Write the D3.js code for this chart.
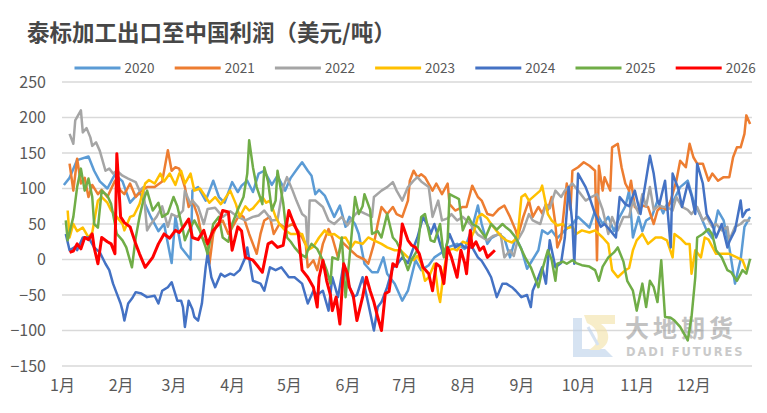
<!DOCTYPE html>
<html>
<head>
<meta charset="utf-8">
<script src="https://cdn.jsdelivr.net/npm/d3@7"></script>
<style>
  html, body { margin: 0; padding: 0; background: #fff; }
  svg { display: block; font-family: "Noto Sans CJK SC", "Noto Sans", sans-serif; }
</style>
</head>
<body>
<div id="chart"></div>
<script>
//----------------------------DATA------------------------------//
// [day of year, profit USD/t]
const y2020 = [[1,105],[4,115],[8,140],[14,145],[17,125],[20,110],[24,100],[28,120],[32,110],[36,80],[41,95],[47,60],[51,40],[54,50],[58,-5],[60,60],[63,17],[68,0],[69,97],[72,102],[76,83],[80,111],[83,88],[86,80],[90,109],[93,95],[95,104],[98,111],[101,95],[104,121],[107,125],[111,105],[114,118],[118,97],[121,115],[125,130],[127,137],[130,125],[132,118],[134,92],[136,98],[139,90],[141,78],[144,60],[147,76],[150,46],[152,60],[155,50],[157,36],[160,-6],[164,-18],[167,-18],[170,3],[172,-20],[176,-34],[180,-58],[183,-44],[187,-1],[190,-15],[194,-8],[197,3],[201,10],[204,17],[209,22],[213,15],[217,45],[220,76],[222,50],[225,22],[227,30],[231,36],[234,30],[237,3],[240,31],[243,15],[246,-13],[249,0],[252,13],[254,41],[257,36],[259,41],[262,30],[266,41],[270,50],[273,60],[277,50],[279,45],[282,69],[286,50],[289,60],[292,40],[295,60],[298,75],[300,97],[302,31],[305,60],[307,40],[309,55],[312,60],[315,83],[318,65],[320,78],[323,80],[327,102],[331,111],[334,83],[338,60],[341,41],[344,30],[347,69],[350,55],[353,17],[356,-34],[359,0],[361,46],[364,60]];
const y2021 = [[4,135],[6,97],[8,142],[10,107],[12,115],[14,88],[16,105],[19,92],[21,98],[24,88],[28,111],[31,97],[33,92],[36,107],[39,88],[42,97],[45,102],[49,102],[53,110],[56,154],[58,125],[60,130],[62,128],[65,102],[67,74],[69,83],[72,60],[74,31],[77,22],[78,-6],[80,36],[82,50],[85,55],[88,36],[90,45],[94,64],[96,60],[99,36],[103,8],[105,36],[107,55],[110,60],[112,36],[115,50],[118,45],[122,50],[125,40],[127,31],[129,20],[130,-11],[133,-1],[135,-15],[138,22],[141,43],[143,31],[146,3],[148,25],[152,15],[156,5],[160,0],[162,-6],[165,22],[167,50],[169,74],[172,64],[175,74],[177,64],[180,60],[183,83],[184,111],[186,125],[188,116],[190,120],[192,116],[196,97],[198,107],[201,92],[204,107],[205,78],[208,69],[212,74],[214,74],[217,104],[220,88],[222,83],[225,64],[228,62],[231,71],[234,76],[237,60],[240,41],[241,31],[244,60],[247,83],[249,60],[252,74],[254,65],[256,78],[257,70],[259,88],[261,50],[262,17],[264,30],[267,107],[269,70],[270,125],[273,130],[276,137],[279,132],[282,125],[283,-1],[284,132],[286,97],[287,116],[290,97],[291,158],[294,163],[296,130],[298,107],[300,97],[301,111],[303,74],[305,69],[307,76],[310,74],[313,50],[315,69],[317,74],[320,70],[322,83],[325,111],[327,139],[330,130],[332,163],[334,144],[336,135],[339,135],[342,111],[344,121],[347,111],[350,116],[353,116],[355,144],[357,158],[359,158],[361,177],[362,203],[364,191]];
const y2022 = [[4,177],[6,163],[7,196],[10,210],[11,179],[13,185],[15,172],[16,160],[18,165],[20,153],[23,125],[25,128],[27,121],[29,125],[32,118],[35,114],[39,109],[41,97],[43,102],[45,41],[47,50],[50,60],[53,75],[56,46],[58,64],[61,60],[64,69],[65,97],[68,78],[69,83],[72,74],[75,50],[77,71],[81,73],[85,60],[89,68],[93,60],[97,55],[101,60],[104,62],[107,69],[111,55],[114,56],[117,102],[119,116],[122,97],[124,83],[127,64],[129,60],[130,13],[131,83],[134,83],[138,74],[141,55],[144,50],[148,60],[151,48],[154,60],[157,69],[160,65],[164,60],[165,88],[169,97],[172,102],[175,109],[177,97],[180,83],[183,102],[186,111],[188,116],[190,110],[194,102],[196,60],[199,83],[201,55],[204,58],[206,64],[209,55],[212,60],[216,50],[220,35],[225,27],[228,33],[232,36],[234,3],[237,13],[239,5],[241,27],[244,41],[247,64],[249,55],[253,50],[256,78],[258,72],[261,97],[264,88],[266,97],[270,107],[273,97],[277,83],[280,88],[283,92],[286,70],[289,36],[291,60],[294,41],[297,60],[300,60],[302,83],[305,65],[307,92],[309,75],[311,102],[313,70],[316,76],[318,74],[320,74],[323,69],[325,88],[328,74],[331,70],[333,64],[336,74],[339,55],[341,60],[344,46],[346,50],[349,41],[352,46],[353,27],[356,46],[359,50],[361,55],[364,55]];
const y2023 = [[3,69],[4,31],[6,50],[8,40],[11,45],[14,31],[16,38],[19,83],[21,88],[24,80],[26,69],[29,60],[32,50],[33,41],[36,60],[38,62],[41,78],[44,107],[46,112],[49,107],[52,121],[54,110],[57,121],[60,105],[62,121],[63,125],[65,107],[68,121],[70,97],[73,100],[76,88],[78,80],[81,88],[84,78],[86,85],[89,97],[92,78],[94,60],[97,75],[99,69],[101,72],[106,88],[108,80],[110,83],[113,60],[115,50],[118,41],[121,36],[124,36],[127,36],[130,13],[133,18],[136,31],[139,41],[141,35],[144,36],[147,30],[150,31],[153,17],[155,25],[159,22],[162,31],[165,27],[169,22],[172,17],[176,13],[179,13],[183,3],[186,-1],[188,5],[190,-6],[192,-30],[194,-25],[197,-6],[199,-48],[200,-60],[202,-15],[204,13],[207,15],[209,13],[212,25],[215,22],[218,40],[220,60],[222,64],[225,58],[227,50],[230,40],[233,31],[235,27],[238,24],[241,31],[243,88],[245,92],[247,83],[250,90],[253,97],[254,104],[257,64],[259,55],[262,48],[265,50],[267,44],[270,46],[272,36],[275,41],[279,38],[282,41],[286,31],[289,22],[291,-15],[294,-25],[298,-15],[300,-12],[302,13],[304,27],[307,36],[310,22],[314,31],[317,31],[320,27],[323,3],[324,36],[327,30],[330,22],[332,22],[333,-20],[335,13],[338,3],[340,31],[342,28],[346,8],[350,8],[353,8],[357,3],[360,-1],[362,-15]];
const y2024 = [[2,36],[4,13],[7,18],[8,13],[11,31],[14,31],[17,17],[20,10],[23,-6],[25,-15],[27,-34],[29,-48],[31,-62],[32,-72],[33,-86],[35,-62],[37,-55],[39,-46],[42,-48],[45,-53],[49,-51],[51,-62],[53,-44],[56,-39],[58,-32],[61,-58],[63,-58],[64,-67],[65,-95],[67,-58],[69,-70],[70,-81],[72,-86],[74,-62],[76,-11],[77,8],[79,-25],[81,-39],[84,-20],[86,-24],[89,-20],[91,-22],[94,-15],[97,3],[98,17],[101,-30],[105,-34],[107,-44],[110,-11],[113,-15],[116,-11],[120,-25],[123,-25],[127,-34],[130,-62],[133,-44],[135,-50],[138,-44],[141,-72],[143,-25],[146,-53],[149,-6],[151,-30],[154,-53],[156,-50],[159,-25],[162,-62],[165,-100],[167,-67],[169,-60],[172,-39],[175,-11],[177,-8],[180,3],[183,-5],[186,17],[188,31],[191,60],[194,45],[195,36],[197,50],[200,22],[202,5],[205,36],[208,17],[211,22],[213,17],[217,17],[220,3],[222,-2],[225,-15],[227,-25],[230,-53],[233,-34],[235,-34],[238,-39],[240,-44],[243,-53],[246,-50],[248,-67],[249,-44],[252,-25],[254,-11],[256,-34],[258,27],[261,-11],[264,-5],[266,31],[268,102],[270,50],[271,-6],[273,121],[277,102],[279,88],[282,64],[285,46],[287,50],[290,41],[293,31],[295,88],[298,78],[300,75],[303,97],[306,64],[308,97],[311,146],[313,121],[315,83],[316,78],[319,111],[322,17],[323,121],[326,100],[328,74],[331,107],[333,90],[335,64],[336,135],[339,107],[341,64],[344,50],[346,31],[349,50],[352,17],[353,25],[356,41],[359,83],[360,60],[362,69],[364,71]];
const y2025 = [[2,55],[3,27],[6,60],[8,102],[10,128],[12,97],[14,114],[16,88],[17,50],[19,45],[21,97],[24,90],[26,78],[29,36],[32,27],[34,17],[37,-11],[39,31],[41,60],[43,83],[45,97],[48,69],[51,80],[53,60],[56,65],[59,88],[61,75],[64,41],[65,27],[67,40],[70,55],[73,40],[76,17],[77,8],[80,50],[83,60],[85,31],[88,25],[90,50],[93,70],[96,88],[98,121],[99,168],[101,130],[103,102],[106,78],[107,130],[109,110],[111,69],[113,83],[114,125],[117,80],[119,31],[121,25],[123,17],[126,8],[129,3],[130,13],[132,22],[135,15],[138,-1],[140,-15],[142,-34],[143,3],[146,0],[148,31],[150,-53],[152,0],[155,88],[157,64],[159,75],[160,92],[163,70],[164,36],[167,40],[169,31],[172,64],[175,31],[177,25],[180,8],[183,-15],[185,0],[188,13],[190,60],[192,64],[195,27],[197,25],[200,50],[202,3],[204,27],[205,92],[208,88],[210,85],[212,41],[215,60],[217,50],[220,46],[224,31],[227,50],[230,42],[233,50],[235,45],[237,41],[240,31],[242,20],[245,3],[248,-11],[250,-25],[252,-39],[254,-15],[257,13],[259,0],[261,-30],[262,-6],[265,-3],[267,-6],[270,-1],[272,-5],[275,-8],[279,-10],[282,-15],[284,-30],[286,-10],[289,3],[292,10],[294,17],[297,-3],[299,-30],[302,-44],[304,-72],[307,-34],[309,-67],[311,-30],[313,-39],[315,-60],[317,-1],[319,-81],[322,-82],[324,-86],[327,-95],[330,-109],[331,-114],[333,-81],[335,-25],[336,31],[339,36],[342,43],[344,35],[346,13],[349,3],[352,-15],[354,-18],[357,-30],[360,-15],[362,-20],[364,1]];
const y2026 = [[4,10],[6,12],[8,22],[10,15],[12,31],[14,28],[16,36],[17,17],[19,-6],[21,31],[24,25],[26,22],[28,8],[29,149],[31,60],[33,52],[36,46],[39,22],[41,8],[44,-11],[48,3],[51,22],[54,36],[57,30],[60,41],[62,38],[64,45],[67,57],[69,31],[72,28],[75,41],[77,22],[80,41],[83,50],[85,69],[88,67],[90,13],[93,46],[95,40],[97,3],[101,-1],[104,-11],[106,-18],[109,22],[111,25],[114,17],[117,20],[120,69],[122,55],[125,36],[127,-15],[130,-25],[133,-39],[135,-67],[136,-25],[138,-1],[140,-30],[142,-50],[143,-72],[145,-53],[147,-91],[149,-6],[151,-20],[152,-39],[154,-50],[156,-86],[159,-53],[161,-25],[163,-44],[165,-60],[167,-81],[169,-100],[171,-48],[173,-45],[175,-6],[177,-10],[179,22],[180,50],[183,27],[185,20],[187,17],[189,8],[191,-11],[194,-20],[196,-44],[198,-6],[200,-10],[202,-34],[204,17],[206,3],[209,-25],[211,13],[213,-5],[214,-20],[216,41],[217,17],[219,25],[221,13],[223,18],[225,3],[227,8],[229,13]];

const seriesNames = ["2020", "2021", "2022", "2023", "2024", "2025", "2026"];
const seriesData = [y2020, y2021, y2022, y2023, y2024, y2025, y2026];
const colors = ["#5B9BD5", "#ED7D31", "#A5A5A5", "#FFC000", "#4472C4", "#70AD47", "#FF0000"];
const yTicks = [-150, -100, -50, 0, 50, 100, 150, 200, 250];
const title = "泰标加工出口至中国利润（美元/吨）";

//----------------------------SETUP-----------------------------//
const width = 767, height = 413;
const plotLeft = 62, plotRight = 752, plotTop = 82, plotBottom = 366;
const svg = d3.select("#chart").append("svg")
    .attr("width", width).attr("height", height);

const start = new Date(2001, 0, 1);
const toDate = d => d3.timeDay.offset(start, d);
const xScale = d3.scaleTime().domain([start, new Date(2002, 0, 1)]).range([plotLeft, plotRight]);
const yScale = d3.scaleLinear().domain([-150, 250]).range([plotBottom, plotTop]);

//----------------------------TITLE-----------------------------//
svg.append("text")
    .attr("x", 27).attr("y", 41)
    .attr("font-size", 22.5).attr("font-weight", "bold")
    .attr("fill", "#474747")
    .text(title);

//----------------------------GRID------------------------------//
svg.append("g").selectAll("line")
    .data(yTicks).enter().append("line")
    .attr("x1", plotLeft).attr("x2", plotRight)
    .attr("y1", d => yScale(d)).attr("y2", d => yScale(d))
    .attr("stroke", "#D9D9D9").attr("stroke-width", 1.5);

const yaxis = d3.axisLeft(yScale).tickValues(yTicks).tickSize(0).tickPadding(0);
const yg = svg.append("g").attr("transform", "translate(46,0)").call(yaxis);
yg.select(".domain").remove();
yg.selectAll("text").attr("font-size", 16).attr("fill", "#595959")
    .attr("font-family", "'Noto Sans CJK SC', sans-serif");

const xaxis = d3.axisBottom(xScale)
    .ticks(d3.timeMonth.every(1))
    .tickFormat(d => (d.getMonth() + 1) + "月")
    .tickSize(0).tickPadding(0);
const xg = svg.append("g").attr("transform", "translate(0,380)").call(xaxis);
xg.select(".domain").remove();
xg.selectAll(".tick").filter(d => d >= new Date(2002, 0, 1)).remove();
xg.selectAll("text").attr("font-size", 16).attr("fill", "#595959")
    .attr("font-family", "'Noto Sans CJK SC', sans-serif");

//--------------------------WATERMARK---------------------------//
const wm = svg.append("g").attr("transform", "translate(573,315)").attr("opacity", 0.6);
wm.append("path")
    .attr("d", "M0,3 L9,3 L9,34 L32,34 L40,42 L0,42 Z")
    .attr("fill", "#bcd1ea");
wm.append("path")
    .attr("d", "M11,0 L42,0 L42,9 L28,9 C38,16 38,30 26,35 L16,35 C28,28 28,14 14,8 Z")
    .attr("fill", "#f3e2a6");
wm.append("path")
    .attr("d", "M15,12 L25,30")
    .attr("stroke", "#bcd1ea").attr("stroke-width", 3);
wm.append("text")
    .attr("x", 52).attr("y", 22)
    .attr("font-size", 24).attr("font-weight", "bold")
    .attr("letter-spacing", 4)
    .attr("fill", "#9a9a9a")
    .text("大地期货");
wm.append("text")
    .attr("x", 53).attr("y", 41)
    .attr("font-size", 11.5).attr("font-weight", "bold")
    .attr("letter-spacing", 1.9)
    .attr("font-family", "'DejaVu Sans', sans-serif")
    .attr("fill", "#a8a8a8")
    .text("DADI FUTURES");

//----------------------------LINES-----------------------------//
const line = d3.line()
    .x(d => xScale(toDate(d[0])))
    .y(d => yScale(d[1]));

svg.append("g").selectAll("path")
    .data(seriesData).enter().append("path")
    .attr("d", d => line(d))
    .attr("fill", "none")
    .attr("stroke", (d, i) => colors[i])
    .attr("stroke-width", (d, i) => i === 6 ? 3 : 2.5)
    .attr("stroke-linejoin", "round");

//----------------------------LEGEND----------------------------//
const legend = svg.append("g").selectAll("g")
    .data(seriesNames).enter().append("g")
    .attr("transform", (d, i) => "translate(" + (74.5 + i * 100.2) + ",68)");
legend.append("line")
    .attr("x1", 0).attr("x2", 46)
    .attr("stroke", (d, i) => colors[i]).attr("stroke-width", 3);
legend.append("text")
    .attr("x", 50).attr("y", 5)
    .attr("font-size", 13.5).attr("fill", "#595959")
    .text(d => d);
</script>
</body>
</html>
